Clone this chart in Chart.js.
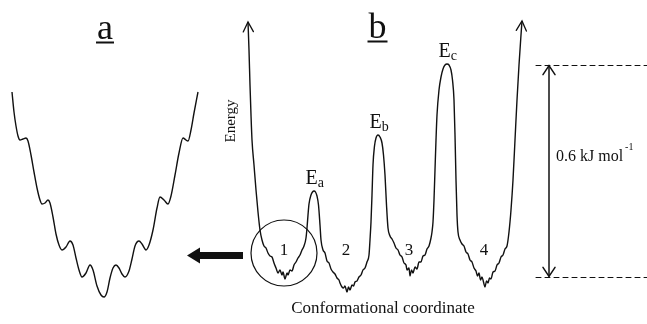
<!DOCTYPE html>
<html>
<head>
<meta charset="utf-8">
<script src="https://cdn.jsdelivr.net/npm/chart.js@4/dist/chart.umd.min.js"></script>
<style>
  html, body { margin: 0; padding: 0; background: #fff; }
  canvas { display: block; }
</style>
</head>
<body>
<canvas id="landscapeChart" width="647" height="324"></canvas>
<script>
// Both panels share one frame: x = conformational coordinate, y = energy (drawn top-down)

// Panel a: the rugged funnel inside a single well
const funnel = [
  [12, 92], [14, 112], [16, 126], [18, 136], [20, 140], [23, 139], [26, 138], [28, 141],
  [31, 155], [34, 172], [37, 188], [40, 200], [42, 204], [45, 203], [48, 200], [50, 203],
  [53, 217], [56, 234], [59, 245], [62, 250], [66, 247], [70, 241], [73, 245], [76, 258],
  [79, 270], [82, 277], [86, 273], [90, 265], [93, 270], [97, 286], [101, 295], [104, 297],
  [107, 292], [110, 278], [113, 268], [116, 265], [119, 268], [122, 274], [125, 277],
  [129, 271], [132, 259], [135, 246], [139, 241], [142, 244], [146, 250], [149, 245],
  [153, 230], [157, 208], [160, 197], [164, 200], [168, 204], [171, 196], [175, 175],
  [179, 153], [183, 138], [186, 140], [188, 141], [191, 130], [194, 113], [198, 92]
];

// Panel b: outer walls, four rugged wells and the three barriers between them
const leftArm = [[248, 22], [249, 50], [250, 85], [251, 115], [252, 140], [254, 165], [256, 190], [258, 212], [260, 230], [262, 240]];
const well1 = [
  [264, 246], [266, 248], [268, 253], [270, 256], [272, 257], [274, 263], [276, 268], [278, 273],
  [280, 270], [282, 275], [283, 272], [285, 279], [287, 273], [288, 275], [290, 270], [292, 271],
  [294, 265], [296, 262], [298, 258], [300, 255], [302, 250], [304, 246], [306, 238]
];
const barrierA = [[307, 228], [308, 215], [309, 204], [311, 195], [312.5, 192], [314, 191], [315.5, 192], [317, 196], [318.5, 205], [320, 225], [321, 240], [323, 250]];
const well2 = [
  [325, 253], [327, 261], [329, 263], [331, 269], [333, 272], [335, 274], [337, 278], [339, 280],
  [340, 283], [342, 287], [343.5, 288], [345, 286], [347, 292], [348.5, 287], [350, 290], [352, 285],
  [353.5, 286], [355, 282], [357, 281], [359, 277], [361, 275], [363, 270], [365, 268], [367, 262], [369, 255]
];
const barrierB = [[370, 240], [371, 222], [372, 195], [373, 165], [374.5, 146], [376, 138], [378, 135], [380, 137], [382, 143], [383.5, 155], [385, 175], [386.5, 205], [388, 228], [390, 236]];
const well3 = [
  [392, 239], [394, 243], [396, 248], [398, 250], [400, 255], [402, 257], [404, 263], [406, 265],
  [407, 270], [409, 268], [410, 276], [411.5, 270], [413, 273], [415, 267], [417, 269], [419, 262],
  [421, 262], [423, 256], [425, 255], [427, 249], [429, 246], [431, 238], [432, 232]
];
const barrierC = [[433, 222], [434, 200], [435, 170], [436, 140], [437, 115], [439, 90], [441, 77], [443, 69], [445, 65], [447, 64], [449, 65], [451, 70], [452.5, 80], [454, 100], [455, 135], [456, 180], [457, 215], [458, 232]];
const well4 = [
  [460, 240], [462, 244], [464, 246], [466, 252], [468, 254], [470, 260], [472, 262], [474, 268],
  [476, 271], [477.5, 276], [479, 273], [480.5, 280], [482, 277], [483.5, 282], [485, 287], [486.5, 281],
  [488, 283], [489.5, 278], [491, 279], [493, 272], [495, 271], [497, 265], [499, 263], [501, 257],
  [503, 255], [505, 249], [507, 246]
];
const rightArm = [[509, 232], [511, 210], [513, 180], [515, 140], [517, 100], [519, 65], [521, 35], [522, 21]];

const wells = [well1, well2, well3, well4];
const wellNames = ['1', '2', '3', '4'];
const barriers = [barrierA, barrierB, barrierC];
const barrierNames = ['a', 'b', 'c'];

// the 0.6 kJ/mol span runs from the well floor level up to the top of barrier c
const spanLevels = [277, 65];
const spanText = '0.6 kJ mol';
const spanUnitPower = '-1';

const ink = '#111';
const serif = '"Liberation Serif", "Times New Roman", serif';

const toPoints = arr => arr.map(([x, y]) => ({ x, y }));
const landscape = [].concat(leftArm, well1, barrierA, well2, barrierB, well3, barrierC, well4, rightArm);

// open V arrowhead at tip, pointing away from 'from' (pixel coords)
function openHead(ctx, tip, from, len, spread) {
  const ang = Math.atan2(tip[1] - from[1], tip[0] - from[0]);
  ctx.beginPath();
  ctx.moveTo(tip[0] - len * Math.cos(ang - spread), tip[1] - len * Math.sin(ang - spread));
  ctx.lineTo(tip[0], tip[1]);
  ctx.lineTo(tip[0] - len * Math.cos(ang + spread), tip[1] - len * Math.sin(ang + spread));
  ctx.stroke();
}

function lowest(arr) {
  return arr.reduce((m, p) => (p[1] > m[1] ? p : m));
}
function highest(arr) {
  return arr.reduce((m, p) => (p[1] < m[1] ? p : m));
}

const overlay = {
  id: 'overlay',
  afterDatasetsDraw(chart) {
    const { ctx } = chart;
    const sx = chart.scales.x, sy = chart.scales.y;
    const P = ([x, y]) => [sx.getPixelForValue(x), sy.getPixelForValue(y)];

    ctx.save();
    ctx.fillStyle = ink;
    ctx.strokeStyle = ink;
    ctx.lineWidth = 1.3;
    ctx.lineCap = 'round';

    // arrowheads on both outer walls of panel b
    openHead(ctx, P(leftArm[0]), P(leftArm[2]), 11, 0.48);
    openHead(ctx, P(rightArm[rightArm.length - 1]), P(rightArm[rightArm.length - 3]), 11, 0.48);

    // panel titles
    ctx.font = '36px ' + serif;
    ctx.textBaseline = 'alphabetic';
    ctx.textAlign = 'center';
    const titles = [['a', 105, 39], ['b', 377.5, 38]];
    titles.forEach(([t, x, y]) => {
      const [px, py] = P([x, y]);
      ctx.fillText(t, px, py);
      const w = ctx.measureText(t).width;
      ctx.fillRect(px - w / 2 - 1, py + 2.5, w + 2, 2);
    });

    // barrier labels E_a, E_b, E_c above each peak
    barriers.forEach((b, i) => {
      const [px, py] = P(highest(b));
      ctx.textAlign = 'left';
      ctx.font = '20px ' + serif;
      const x0 = px - 8.5, y0 = py - 7.5;
      ctx.fillText('E', x0, y0);
      const w = ctx.measureText('E').width;
      ctx.font = '14px ' + serif;
      ctx.fillText(barrierNames[i], x0 + w, y0 + 3);
    });

    // well numbers
    ctx.font = '17px ' + serif;
    ctx.textAlign = 'center';
    ctx.textBaseline = 'middle';
    wells.forEach((w, i) => {
      const [px] = P(lowest(w));
      const [, py] = P([0, 251]);
      ctx.fillText(wellNames[i], px - 1, py);
    });

    // circle around well 1
    const [cx, cy] = P([284, 253]);
    ctx.lineWidth = 1.2;
    ctx.beginPath();
    ctx.arc(cx, cy, 33, 0, Math.PI * 2);
    ctx.stroke();

    // thick arrow pointing from well 1 to panel a
    const [ax0, ay] = P([243, 255.5]);
    const [ax1] = P([200, 0]);
    const [atip] = P([187, 0]);
    ctx.beginPath();
    ctx.moveTo(ax0, ay - 3.5);
    ctx.lineTo(ax1, ay - 3.5);
    ctx.lineTo(ax1, ay - 8);
    ctx.lineTo(atip, ay);
    ctx.lineTo(ax1, ay + 8);
    ctx.lineTo(ax1, ay + 3.5);
    ctx.lineTo(ax0, ay + 3.5);
    ctx.closePath();
    ctx.fill();

    // axis captions
    ctx.font = '17px ' + serif;
    ctx.textBaseline = 'middle';
    const [tx, ty] = P([383, 309]);
    ctx.fillText('Conformational coordinate', tx, ty);

    ctx.save();
    const [ex, ey] = P([231, 121]);
    ctx.translate(ex, ey);
    ctx.rotate(-Math.PI / 2);
    ctx.font = '15px ' + serif;
    ctx.fillText('Energy', 0, 0);
    ctx.restore();

    // dashed reference levels and the double arrow for the energy span
    const [, yTop] = P([0, spanLevels[1]]);
    const [, yBot] = P([0, spanLevels[0]]);
    const [dx0] = P([536, 0]);
    const [dx1] = P([647, 0]);
    ctx.lineWidth = 1;
    ctx.setLineDash([5, 4]);
    [yTop, yBot].forEach(yy => {
      ctx.beginPath();
      ctx.moveTo(dx0, Math.round(yy) + 0.5);
      ctx.lineTo(dx1, Math.round(yy) + 0.5);
      ctx.stroke();
    });
    ctx.setLineDash([]);

    const [vx] = P([549, 0]);
    ctx.lineWidth = 1.5;
    ctx.beginPath();
    ctx.moveTo(vx, yTop + 1);
    ctx.lineTo(vx, yBot - 1);
    ctx.stroke();
    openHead(ctx, [vx, yTop + 0.5], [vx, yTop + 20], 11, 0.58);
    openHead(ctx, [vx, yBot - 0.5], [vx, yBot - 20], 11, 0.58);

    ctx.textAlign = 'left';
    ctx.textBaseline = 'alphabetic';
    ctx.font = '16px ' + serif;
    const [lx, ly] = P([556, 161]);
    ctx.fillText(spanText, lx, ly);
    const lw = ctx.measureText(spanText).width;
    ctx.font = '10px ' + serif;
    ctx.fillText(spanUnitPower, lx + lw + 2, ly - 11);

    ctx.restore();
  }
};

const lineStyle = {
  borderColor: ink,
  borderWidth: 1.4,
  pointRadius: 0,
  fill: false,
  cubicInterpolationMode: 'monotone',
  clip: false
};

new Chart(document.getElementById('landscapeChart').getContext('2d'), {
  type: 'line',
  data: {
    datasets: [
      Object.assign({ label: 'funnel', data: toPoints(funnel) }, lineStyle),
      Object.assign({ label: 'landscape', data: toPoints(landscape) }, lineStyle)
    ]
  },
  options: {
    responsive: false,
    animation: false,
    devicePixelRatio: 1,
    layout: { padding: 0 },
    scales: {
      x: { type: 'linear', min: 0, max: 647, display: false },
      y: { type: 'linear', min: 0, max: 324, reverse: true, display: false }
    },
    plugins: {
      legend: { display: false },
      tooltip: { enabled: false }
    }
  },
  plugins: [overlay]
});
</script>
</body>
</html>
